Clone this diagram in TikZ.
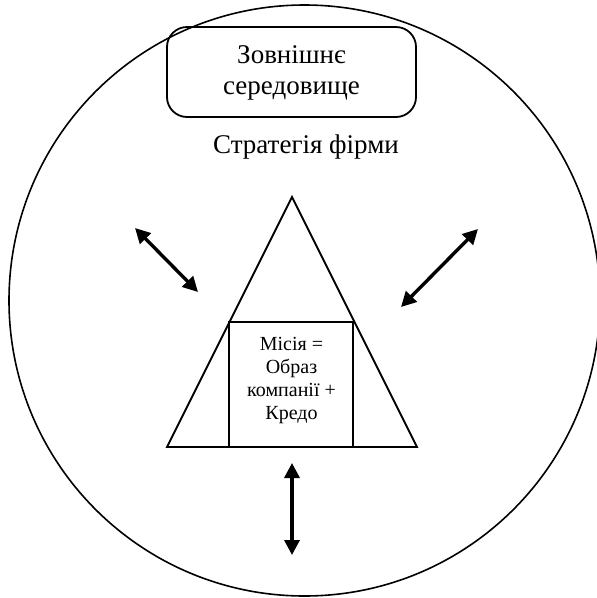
\documentclass[tikz,border=0pt]{standalone}
\usepackage{fontspec}
\setmainfont{Liberation Serif}
\newfontfamily\cyrserif{Liberation Serif}
\usetikzlibrary{arrows.meta}
\begin{document}
\begin{tikzpicture}[x=1pt,y=-1pt,
  thinline/.style={line width=1.6pt},
  triline/.style={line width=1.8pt, line join=miter},
  dblarrow/.style={line width=3.4pt, {Triangle[length=15pt,width=15pt]}-{Triangle[length=15pt,width=15pt]}},
  bigtext/.style={font=\cyrserif\fontsize{27}{31}\selectfont, align=center, inner sep=0pt},
  smalltext/.style={font=\cyrserif\fontsize{20}{23}\selectfont, align=center, inner sep=0pt}]
\useasboundingbox (0,0) rectangle (597,598);
\begin{scope}
\clip (0,0) rectangle (597,598);
\node[draw, circle, thinline, minimum size=591pt, inner sep=0pt] (env) at (304.5,300.5) {};
\end{scope}
% external environment box
\node[draw, triline, rounded corners=20pt, minimum width=249pt, minimum height=90pt] (extbox) at (291.5,72) {};
\node[bigtext] (ext) at (291.5,73) {Зовнішнє\\середовище};
% strategy label
\node[bigtext, anchor=base] (strat) at (306,153) {Стратегія фірми};
% triangle
\coordinate (apex) at (292,197);
\coordinate (bl) at (167,447);
\coordinate (br) at (417,447);
\draw[triline] (apex) -- (br) -- (bl) -- cycle;
% mission square
\node[draw, triline, minimum width=124pt, minimum height=125pt, inner sep=0pt] (mission) at (291,384.5) {};
\node[smalltext] (missiontext) at (291.5,381) {Місія =\\Образ\\компанії +\\Кредо};
% arrows
\coordinate (ula) at (135,228);
\coordinate (ulb) at (198,292);
\coordinate (ura) at (478,229);
\coordinate (urb) at (401,307);
\coordinate (bta) at (292,463);
\coordinate (btb) at (292,555);
\draw[dblarrow] (ula) -- (ulb);
\draw[dblarrow] (ura) -- (urb);
\draw[dblarrow] (bta) -- (btb);
\end{tikzpicture}
\end{document}
